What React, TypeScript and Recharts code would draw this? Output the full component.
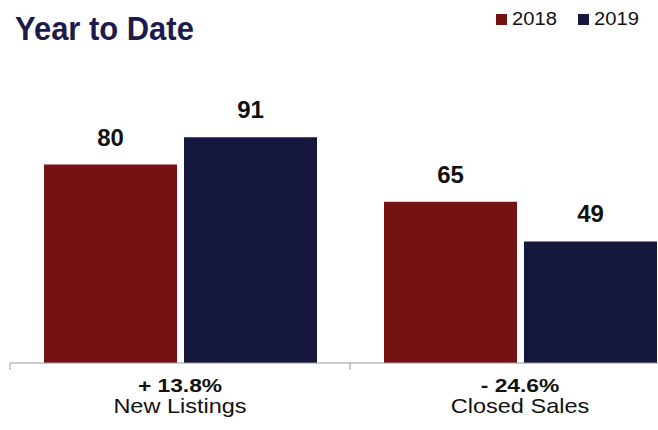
import { BarChart, Bar, XAxis, YAxis, LabelList } from "recharts";

const categories = ["New Listings", "Closed Sales"];
const values2018 = [80, 65];
const values2019 = [91, 49];
const changeLabels = ["+ 13.8%", "- 24.6%"];
const seriesNames = ["2018", "2019"];

const data = categories.map((name, i) => ({
  name,
  y2018: values2018[i],
  y2019: values2019[i],
}));

const RED = "#751214";
const NAVY = "#16173f";
const seriesColors = [RED, NAVY];
const FONT = '"Liberation Sans", Arial, Helvetica, sans-serif';

// the plot runs past the right edge of the picture, so the chart is wider than the frame
const CHART_W = 700;
const CHART_H = 430;
const AXIS_H = 30;
const MARGIN = { top: 115, right: 10, bottom: 67 - AXIS_H, left: 10 };
const BAND = (CHART_W - MARGIN.left - MARGIN.right) / categories.length;

function CategoryTick(props: any) {
  const { x, y, payload } = props;
  const edge = x - BAND / 2;
  return (
    <g fontFamily={FONT}>
      <line x1={edge} x2={edge} y1={y} y2={y + 7} stroke="#9a9a9a" />
      <text
        transform={`translate(${x},${y + 29}) scale(1.2,1)`}
        textAnchor="middle"
        fontSize={19}
        fontWeight="bold"
        fill="#111"
      >
        {changeLabels[payload.index]}
      </text>
      <text
        transform={`translate(${x},${y + 50}) scale(1.12,1)`}
        textAnchor="middle"
        fontSize={21}
        fill="#111"
      >
        {payload.value}
      </text>
    </g>
  );
}

function SeriesLegend() {
  return (
    <div
      style={{
        position: "absolute",
        left: 496,
        top: 9,
        display: "flex",
        fontFamily: FONT,
        fontSize: 18,
        lineHeight: "20px",
        color: "#111",
      }}
    >
      {seriesNames.map((name, i) => (
        <div key={name} style={{ display: "flex", alignItems: "center", width: 82 }}>
          <span
            style={{
              display: "inline-block",
              width: 11,
              height: 11,
              background: seriesColors[i],
              marginRight: 5,
            }}
          />
          <span style={{ display: "inline-block", transform: "scaleX(1.12)", transformOrigin: "left" }}>
            {name}
          </span>
        </div>
      ))}
    </div>
  );
}

export default function App() {
  return (
    <div
      style={{
        position: "fixed",
        left: 0,
        top: 0,
        width: 658,
        height: 430,
        overflow: "hidden",
        background: "#fff",
      }}
    >
      {/* Title */}
      <div
        style={{
          position: "absolute",
          left: 15,
          top: 11,
          fontFamily: FONT,
          fontWeight: "bold",
          fontSize: 34,
          lineHeight: "34px",
          color: "#1c1b4b",
          transform: "scaleX(0.91)",
          transformOrigin: "left",
          whiteSpace: "nowrap",
          zIndex: 1,
        }}
      >
        Year to Date
      </div>

      <SeriesLegend />

      <BarChart
        width={CHART_W}
        height={CHART_H}
        data={data}
        margin={MARGIN}
        barCategoryGap="10%"
        barGap={7}
      >
        <XAxis
          dataKey="name"
          height={AXIS_H}
          tickLine={false}
          tickSize={0}
          tickMargin={0}
          axisLine={{ stroke: "#9a9a9a" }}
          tick={<CategoryTick />}
          interval={0}
        />
        <YAxis hide domain={[0, 100]} />

        <Bar dataKey="y2018" name={seriesNames[0]} fill={RED} isAnimationActive={false}>
          <LabelList
            dataKey="y2018"
            position="top"
            offset={19}
            fontSize={24}
            fontWeight="bold"
            fill="#111"
            fontFamily={FONT}
          />
        </Bar>
        <Bar dataKey="y2019" name={seriesNames[1]} fill={NAVY} isAnimationActive={false}>
          <LabelList
            dataKey="y2019"
            position="top"
            offset={19}
            fontSize={24}
            fontWeight="bold"
            fill="#111"
            fontFamily={FONT}
          />
        </Bar>
      </BarChart>
    </div>
  );
}
